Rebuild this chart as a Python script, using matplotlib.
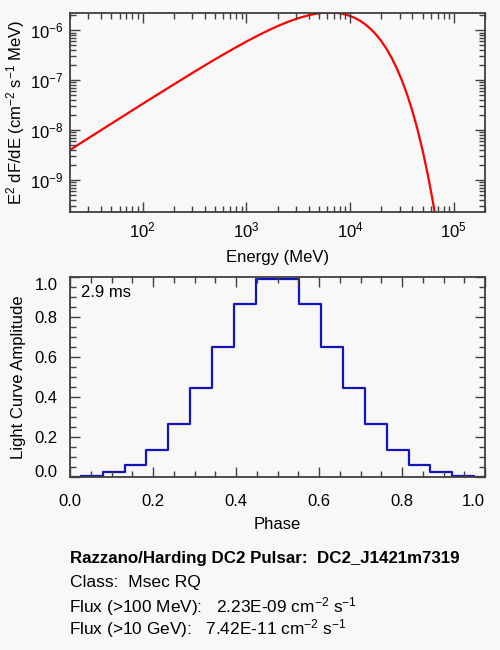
import numpy as np
import matplotlib
matplotlib.use("Agg")
import matplotlib.pyplot as plt
from matplotlib.ticker import LogLocator, NullFormatter, FormatStrFormatter
from matplotlib.transforms import ScaledTranslation

plt.rcParams['font.family'] = ['Liberation Sans', 'DejaVu Sans']
plt.rcParams['mathtext.default'] = 'regular'

# spectrum (energy in MeV, E^2 dF/dE)
energy = [20, 31.6, 56.2, 100, 178, 316, 501, 794, 1000, 1259, 1585, 1995,
          2512, 3162, 3981, 4467, 5012, 5623, 6310, 7079, 7943, 8913, 10000,
          11220, 12589, 14125, 15849, 17783, 19953, 22387, 25119, 28184,
          31623, 35481, 39811, 44668, 50119, 56234, 63096, 67608]
e2dfde = [4.00e-9, 7.35e-9, 1.570e-8, 3.35e-8, 7.08e-8, 1.479e-7, 2.63e-7,
          4.56e-7, 5.93e-7, 7.64e-7, 9.70e-7, 1.208e-6, 1.476e-6, 1.750e-6,
          2.004e-6, 2.109e-6, 2.193e-6, 2.254e-6, 2.275e-6, 2.259e-6,
          2.198e-6, 2.094e-6, 1.945e-6, 1.758e-6, 1.542e-6, 1.303e-6,
          1.062e-6, 8.26e-7, 6.14e-7, 4.31e-7, 2.84e-7, 1.746e-7, 9.95e-8,
          5.19e-8, 2.455e-8, 1.040e-8, 3.89e-9, 1.268e-9, 3.54e-10, 1.517e-10]

# light curve, 20 phase bins
phase = [i / 19 for i in range(20)]
amplitude = [0.002, 0.007, 0.023, 0.062, 0.137, 0.265, 0.444, 0.653, 0.868, 0.993,
             0.993, 0.868, 0.653, 0.444, 0.265, 0.137, 0.062, 0.023, 0.007, 0.002]

phase_ticks = [0.0, 0.2, 0.4, 0.6, 0.8, 1.0]
amp_ticks = [0.0, 0.2, 0.4, 0.6, 0.8, 1.0]

period_label = "2.9 ms"
pulsar_name = "DC2_J1421m7319"
pulsar_class = "Msec RQ"
flux_100mev = "2.23E-09"
flux_10gev = "7.42E-11"

bg = '#f8f8f8'
axcol = '#404040'

fig = plt.figure(figsize=(5, 6.5), dpi=100, facecolor=bg)

ax1 = fig.add_axes([0.14, 0.6734, 0.83, 0.3071], facecolor=bg)
ax2 = fig.add_axes([0.14, 0.2662, 0.83, 0.3072], facecolor=bg)

for ax in (ax1, ax2):
    for s in ax.spines.values():
        s.set_color(axcol)
        s.set_linewidth(1.3)
    ax.tick_params(which='both', direction='in', top=True, right=True,
                   color=axcol, labelsize=12, width=1.0, pad=6)
    ax.tick_params(which='major', length=7)
    ax.tick_params(which='minor', length=4)

# top: spectrum
ax1.plot(energy, e2dfde, color='#ff0000', lw=1.6, zorder=1)
ax1.set_xscale('log')
ax1.set_yscale('log')
ax1.set_xlim(20, 2.0e5)
ax1.set_ylim(2.25e-10, 2.26e-6)
ax1.xaxis.set_major_locator(LogLocator(base=10, numticks=10))
ax1.xaxis.set_minor_locator(LogLocator(base=10, subs=np.arange(2, 10), numticks=20))
ax1.yaxis.set_minor_locator(LogLocator(base=10, subs=np.arange(2, 10), numticks=20))
ax1.xaxis.set_minor_formatter(NullFormatter())
ax1.yaxis.set_minor_formatter(NullFormatter())
ax1.tick_params(axis='y', pad=5)
ax1.set_xlabel('Energy (MeV)', fontsize=12, labelpad=7)
ax1.set_ylabel(r'E$^2$ dF/dE (cm$^{-2}$ s$^{-1}$ MeV)', fontsize=12, labelpad=2)

# bottom: light curve
ax2.step(phase, amplitude, where='mid', color='#1414b8', lw=1.6, zorder=1)
ax2.set_xlim(0, 1)
ax2.set_ylim(0, 1)
ax2.set_xticks(phase_ticks)
ax2.set_xticks(np.arange(0, 1.001, 0.05), minor=True)
ax2.set_yticks(amp_ticks)
ax2.set_yticks(np.arange(0, 1.001, 0.05), minor=True)
ax2.xaxis.set_major_formatter(FormatStrFormatter('%.1f'))
ax2.yaxis.set_major_formatter(FormatStrFormatter('%.1f'))
ax2.tick_params(axis='x', pad=12)
ax2.tick_params(axis='y', pad=9)
ax2.set_xlabel('Phase', fontsize=12, labelpad=6)
ax2.set_ylabel('Light Curve Amplitude', fontsize=12, labelpad=6)
ax2.text(0.026, 0.903, period_label, transform=ax2.transAxes, fontsize=12,
         va='baseline', ha='left')

# keep the end labels inside the frame
xl = ax2.get_xticklabels()
yl = ax2.get_yticklabels()
xl[-1].set_transform(xl[-1].get_transform() + ScaledTranslation(-0.115, 0, fig.dpi_scale_trans))
yl[0].set_transform(yl[0].get_transform() + ScaledTranslation(0, 0.057, fig.dpi_scale_trans))
yl[-1].set_transform(yl[-1].get_transform() + ScaledTranslation(0, -0.067, fig.dpi_scale_trans))

# info text
fig.text(0.14, 0.1343, 'Razzano/Harding DC2 Pulsar:  ' + pulsar_name,
         fontsize=12.2, fontweight='bold', va='baseline')
fig.text(0.14, 0.0965, 'Class:  ' + pulsar_class, fontsize=12.6, va='baseline')
fig.text(0.138, 0.0574, r'Flux (>100 MeV):   ' + flux_100mev + r' cm$^{-2}$ s$^{-1}$',
         fontsize=12.4, va='baseline')
fig.text(0.138, 0.0246, r'Flux (>10 GeV):   ' + flux_10gev + r' cm$^{-2}$ s$^{-1}$',
         fontsize=12.4, va='baseline')

fig.savefig('out.png', dpi=100, facecolor=bg)
